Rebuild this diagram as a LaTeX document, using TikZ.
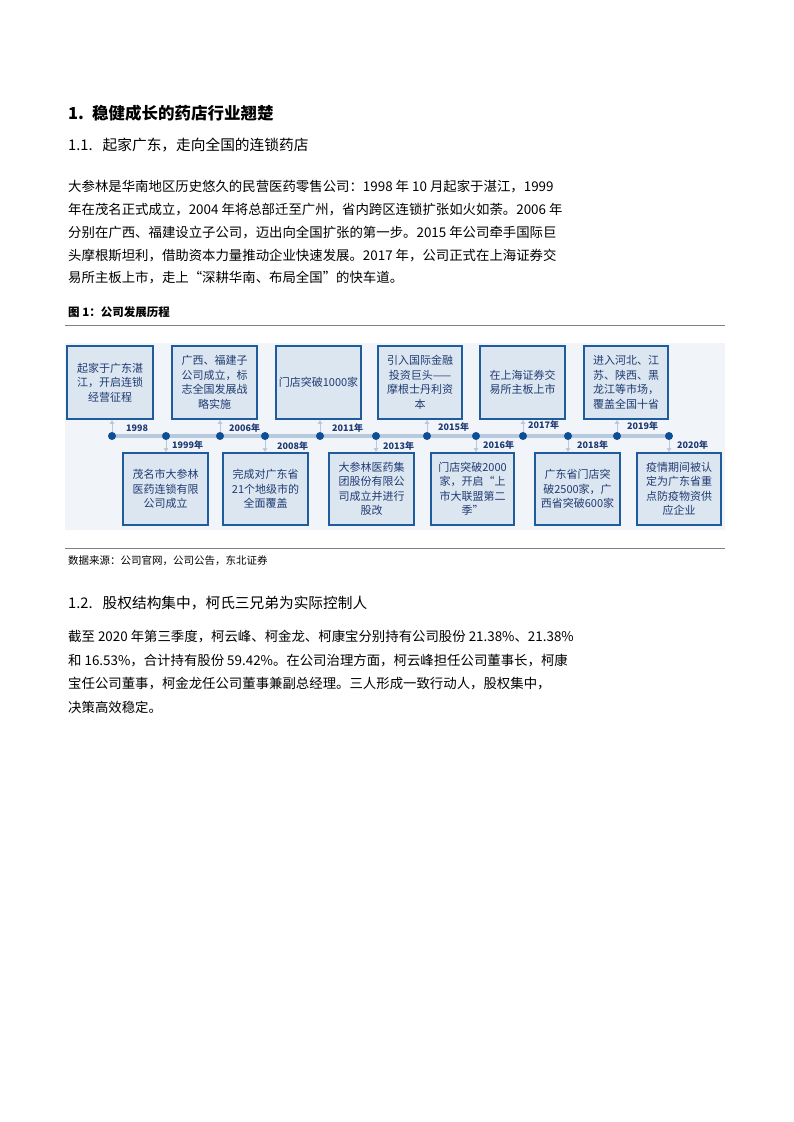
\documentclass[tikz,border=0pt]{standalone}
\usepackage{fontspec}
\setmainfont{Liberation Serif}
\newfontfamily\cjk{Noto Sans CJK SC}
\usetikzlibrary{arrows.meta}
\definecolor{bxfill}{HTML}{DCE6F0}
\definecolor{bxdraw}{HTML}{1E5C9E}
\definecolor{bxtext}{HTML}{1F3B73}
\definecolor{panel}{HTML}{F1F4F8}
\definecolor{tl}{HTML}{B7C9DD}
\definecolor{dotc}{HTML}{0E4E97}
\begin{document}
\begin{tikzpicture}[x=1pt,y=-1pt,
 evbox/.style={draw=bxdraw,line width=1.6pt,fill=bxfill,inner sep=1pt,align=center,text=bxtext,font=\cjk\fontsize{11}{14.5}\selectfont},
 yr/.style={text=bxtext,font=\bfseries\fontsize{9}{10}\selectfont\cjk,inner sep=0pt},
 dotn/.style={circle,fill=dotc,inner sep=0pt,minimum size=8pt},
 arr/.style={-{Latex[length=4pt,width=5pt]},draw=tl,line width=1pt},
 body/.style={anchor=west,inner sep=0pt,font=\cjk\fontsize{13.4}{15}\selectfont},
 head/.style={anchor=west,inner sep=0pt}]
\useasboundingbox (0,0) rectangle (793,1122);
\fill[white] (0,0) rectangle (793,1122);

\node[head,font=\cjk\bfseries\fontsize{16.5}{18}\selectfont] (h1) at (68,113) {1.\hspace{8pt}稳健成长的药店行业翘楚};
\node[head,font=\cjk\fontsize{14.7}{17}\selectfont] (h11) at (68,145) {1.1.\hspace{10pt}起家广东，走向全国的连锁药店};
\node[body] (p1) at (68,187) {大参林是华南地区历史悠久的民营医药零售公司：1998 年 10 月起家于湛江，1999};
\node[body] (p2) at (68,210) {年在茂名正式成立，2004 年将总部迁至广州，省内跨区连锁扩张如火如荼。2006 年};
\node[body] (p3) at (68,233) {分别在广西、福建设立子公司，迈出向全国扩张的第一步。2015 年公司牵手国际巨};
\node[body] (p4) at (68,256) {头摩根斯坦利，借助资本力量推动企业快速发展。2017 年，公司正式在上海证券交};
\node[body] (p5) at (68,278) {易所主板上市，走上“深耕华南、布局全国”的快车道。};

\node[head,font=\cjk\bfseries\fontsize{11.5}{13}\selectfont] (cap) at (68,312) {图 1：公司发展历程};
\draw[line width=0.8pt,gray] (65,325) -- (725,325);
\fill[panel] (65,343) rectangle (725,530);
\draw[line width=0.8pt,gray] (65,548) -- (725,548);
\node[head,font=\cjk\fontsize{10.5}{12}\selectfont] (src) at (68,561) {数据来源：公司官网，公司公告，东北证券};

\node[head,font=\cjk\fontsize{14.7}{17}\selectfont] (h12) at (68,603) {1.2.\hspace{10pt}股权结构集中，柯氏三兄弟为实际控制人};
\node[body] (q1) at (68,637) {截至 2020 年第三季度，柯云峰、柯金龙、柯康宝分别持有公司股份 21.38\%、21.38\%};
\node[body] (q2) at (68,661) {和 16.53\%，合计持有股份 59.42\%。在公司治理方面，柯云峰担任公司董事长，柯康};
\node[body] (q3) at (68,684) {宝任公司董事，柯金龙任公司董事兼副总经理。三人形成一致行动人，股权集中，};
\node[body] (q4) at (68,707) {决策高效稳定。};

% timeline
\draw[tl,line width=4pt] (112,436) -- (669,436);
\foreach \n/\x in {a/112,b/166,c/220,d/265,e/320,f/376,g/427,h/476,i/523,j/568,k/617,l/669}
  \node[dotn] (d\n) at (\x,436) {};
% top boxes
\node[evbox,minimum width=86pt,minimum height=73pt,text width=80pt] (t1) at (110,382.5) {起家于广东湛\\江，开启连锁\\经营征程};
\node[evbox,minimum width=85pt,minimum height=73pt,text width=80pt] (t2) at (214.5,382.5) {广西、福建子\\公司成立，标\\志全国发展战\\略实施};
\node[evbox,minimum width=85pt,minimum height=73pt,text width=82pt] (t3) at (318.5,382.5) {门店突破1000家};
\node[evbox,minimum width=84pt,minimum height=73pt,text width=80pt] (t4) at (420,382.5) {引入国际金融\\投资巨头——\\摩根士丹利资\\本};
\node[evbox,minimum width=85pt,minimum height=73pt,text width=80pt] (t5) at (522.5,382.5) {在上海证券交\\易所主板上市};
\node[evbox,minimum width=84pt,minimum height=73pt,text width=80pt] (t6) at (626,382.5) {进入河北、江\\苏、陕西、黑\\龙江等市场，\\覆盖全国十省};
% bottom boxes
\node[evbox,minimum width=85pt,minimum height=72pt,text width=80pt] (b1) at (165.5,489) {茂名市大参林\\医药连锁有限\\公司成立};
\node[evbox,minimum width=85pt,minimum height=72pt,text width=80pt] (b2) at (265.5,489) {完成对广东省\\21个地级市的\\全面覆盖};
\node[evbox,minimum width=85pt,minimum height=72pt,text width=80pt] (b3) at (371.5,489) {大参林医药集\\团股份有限公\\司成立并进行\\股改};
\node[evbox,minimum width=83pt,minimum height=72pt,text width=80pt] (b4) at (472.5,489) {门店突破2000\\家，开启“上\\市大联盟第二\\季”};
\node[evbox,minimum width=85pt,minimum height=72pt,text width=80pt] (b5) at (577.5,489) {广东省门店突\\破2500家，广\\西省突破600家};
\node[evbox,minimum width=84pt,minimum height=72pt,text width=80pt] (b6) at (679,489) {疫情期间被认\\定为广东省重\\点防疫物资供\\应企业};
% arrows
\foreach \d/\b in {a/t1,c/t2,e/t3,g/t4,i/t5,k/t6}
  \draw[arr] (d\d) -- (d\d |- \b.south);
\foreach \d/\b in {b/b1,d/b2,f/b3,h/b4,j/b5,l/b6}
  \draw[arr] (d\d) -- (d\d |- \b.north);
% years
\node[yr,anchor=west] (ya) at (126,428) {1998};
\node[yr,anchor=west] (yb) at (172,445) {1999年};
\node[yr,anchor=west] (yc) at (229,428) {2006年};
\node[yr,anchor=west] (yd) at (277,446) {2008年};
\node[yr,anchor=west] (ye) at (332,428) {2011年};
\node[yr,anchor=west] (yf) at (383,446) {2013年};
\node[yr,anchor=west] (yg) at (438,427) {2015年};
\node[yr,anchor=west] (yh) at (483,445) {2016年};
\node[yr,anchor=west] (yi) at (528,425) {2017年};
\node[yr,anchor=west] (yj) at (577,445) {2018年};
\node[yr,anchor=west] (yk) at (627,426) {2019年};
\node[yr,anchor=west] (yl) at (677,445) {2020年};
\end{tikzpicture}
\end{document}
